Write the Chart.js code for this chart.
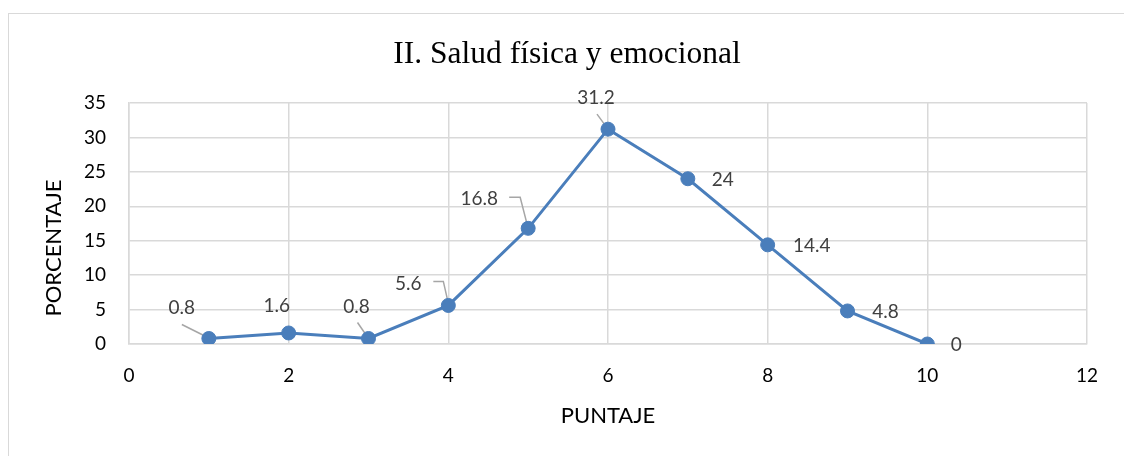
<!DOCTYPE html>
<html lang="es">
<head>
  <meta charset="UTF-8" />
  <title>II. Salud física y emocional</title>
  <script src="https://cdn.jsdelivr.net/npm/chart.js"></script>
  <style>
    html, body { margin: 0; padding: 0; background: #fff; }
    #wrap { position: relative; width: 1124px; height: 456px; overflow: hidden; }
    .frame {
      position: absolute; left: 8px; top: 13px;
      width: 1130px; height: 460px;
      border: 1px solid #d9d9d9;
    }
    #chart { position: absolute; left: 0; top: 0; }
  </style>
</head>
<body>
  <div id="wrap">
    <div class="frame"></div>
    <canvas id="chart" width="1124" height="456"></canvas>
  </div>

  <script>
    // data
    const chartTitle = 'II. Salud física y emocional';
    const xTitle = 'PUNTAJE';
    const yTitle = 'PORCENTAJE';
    const puntaje = [1, 2, 3, 4, 5, 6, 7, 8, 9, 10];
    const porcentaje = [0.8, 1.6, 0.8, 5.6, 16.8, 31.2, 24, 14.4, 4.8, 0];
    const xTicks = [0, 2, 4, 6, 8, 10, 12];
    const yTicks = [0, 5, 10, 15, 20, 25, 30, 35];

    const blue = '#4a7ebb';
    const grid = '#d9d9d9';
    const tickFont = { family: 'Lato', size: 19 };

    // label placement (offset from point, px) and leader lines, like Excel put them
    const labelPos = [
      { dx: -27, dy: -31, leader: [[-27, -14], [-1, -1]] },
      { dx: -12, dy: -27 },
      { dx: -12, dy: -32, leader: [[-11, -16], [0, 0]] },
      { dx: -40, dy: -22, leader: [[-15, -24], [-5, -24], [0, -2]] },
      { dx: -49, dy: -29, leader: [[-19, -31], [-8, -31], [0, 0]] },
      { dx: -12, dy: -31, leader: [[-11, -15], [0, 0]] },
      { dx: 35, dy: 1 },
      { dx: 44, dy: 1 },
      { dx: 38, dy: 1 },
      { dx: 29, dy: 1 }
    ];

    const dataLabels = {
      id: 'dataLabels',
      beforeDatasetsDraw(chart) {
        const ctx = chart.ctx;
        const pts = chart.getDatasetMeta(0).data;
        ctx.save();
        ctx.strokeStyle = '#a6a6a6';
        ctx.lineWidth = 1.5;
        pts.forEach((p, i) => {
          const l = labelPos[i].leader;
          if (!l) return;
          ctx.beginPath();
          l.forEach(([dx, dy], k) => {
            if (k === 0) ctx.moveTo(p.x + dx, p.y + dy);
            else ctx.lineTo(p.x + dx, p.y + dy);
          });
          ctx.stroke();
        });
        ctx.restore();
      },
      afterDatasetsDraw(chart) {
        const ctx = chart.ctx;
        const pts = chart.getDatasetMeta(0).data;
        ctx.save();
        ctx.font = '19px Lato';
        ctx.fillStyle = '#404040';
        ctx.textAlign = 'center';
        ctx.textBaseline = 'middle';
        pts.forEach((p, i) => {
          ctx.fillText(String(porcentaje[i]), p.x + labelPos[i].dx, p.y + labelPos[i].dy);
        });
        ctx.restore();
      }
    };

    const titles = {
      id: 'titles',
      afterDraw(chart) {
        const ctx = chart.ctx;
        const a = chart.chartArea;
        ctx.save();
        ctx.fillStyle = '#000';
        ctx.textBaseline = 'alphabetic';
        ctx.textAlign = 'center';
        ctx.font = '31.5px "Liberation Serif"';
        ctx.fillText(chartTitle, 567, 63);
        ctx.font = '22px Lato';
        ctx.fillText(xTitle, (a.left + a.right) / 2, 423);
        ctx.translate(61, 248);
        ctx.rotate(-Math.PI / 2);
        ctx.fillText(yTitle, 0, 0);
        ctx.restore();
      }
    };

    new Chart(document.getElementById('chart'), {
      type: 'scatter',
      data: {
        datasets: [{
          data: puntaje.map((x, i) => ({ x, y: porcentaje[i] })),
          showLine: true,
          borderColor: blue,
          backgroundColor: blue,
          borderWidth: 3,
          pointRadius: 7,
          pointBorderWidth: 1,
          pointBackgroundColor: blue,
          pointBorderColor: blue
        }]
      },
      options: {
        responsive: false,
        animation: false,
        layout: { padding: { top: 103, right: 37, left: 0, bottom: 0 } },
        plugins: {
          legend: { display: false },
          tooltip: { enabled: false }
        },
        scales: {
          x: {
            type: 'linear',
            min: 0, max: 12,
            afterBuildTicks: s => { s.ticks = xTicks.map(v => ({ value: v })); },
            afterFit: s => { s.height = 112; },
            grid: { color: grid, lineWidth: 1.5, drawTicks: false },
            border: { color: grid, width: 1.5 },
            ticks: { color: '#000', font: tickFont, padding: 20 }
          },
          y: {
            min: 0, max: 35,
            afterBuildTicks: s => { s.ticks = yTicks.map(v => ({ value: v })); },
            afterFit: s => { s.width = 129; },
            grid: { color: grid, lineWidth: 1.5, drawTicks: false },
            border: { color: grid, width: 1.5 },
            ticks: { color: '#000', font: tickFont, padding: 23 }
          }
        }
      },
      plugins: [dataLabels, titles]
    });
  </script>
</body>
</html>
